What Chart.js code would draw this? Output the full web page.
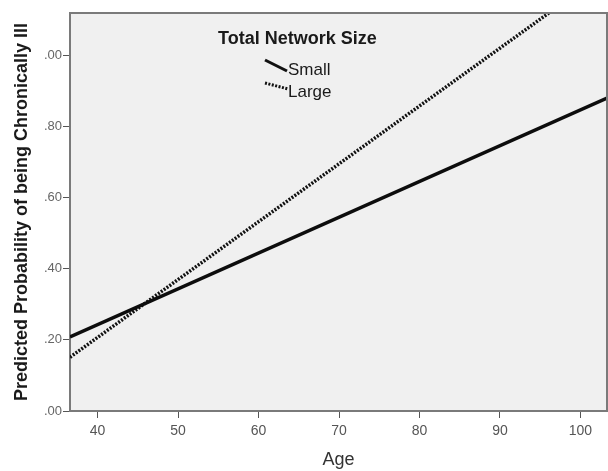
<!DOCTYPE html>
<html><head><meta charset="utf-8">
<script src="https://cdn.jsdelivr.net/npm/chart.js@4.4.1/dist/chart.umd.min.js"></script>
<style>html,body{margin:0;padding:0;background:#fff}#w{width:608px;height:471px}</style>
</head><body><div id="w"><canvas id="c" width="608" height="471"></canvas></div>
<script>
const ageSmall = [36.57, 103.3];
const probSmall = [0.208, 0.879];
const ageLarge = [36.57, 96.07];
const probLarge = [0.151, 1.118];
const xTicks = [40, 50, 60, 70, 80, 90, 100];
const yTicks = [0, 0.2, 0.4, 0.6, 0.8, 1.0];
const yTickLabels = ['.00', '.20', '.40', '.60', '.80', '.00'];
const seriesNames = ['Small', 'Large'];
const legendTitle = 'Total Network Size';

const bgPlugin = {
  id: 'bg',
  beforeDraw(chart) {
    const {ctx, chartArea: a} = chart;
    ctx.save(); ctx.fillStyle = '#f0f0f0';
    ctx.fillRect(a.left, a.top, a.right - a.left, a.bottom - a.top);
    ctx.restore();
  },
  afterDraw(chart) {
    const {ctx, chartArea: a} = chart;
    ctx.save();
    ctx.strokeStyle = '#7a7a7a'; ctx.lineWidth = 2;
    ctx.beginPath(); ctx.moveTo(a.left, a.top); ctx.lineTo(a.right, a.top); ctx.lineTo(a.right, a.bottom); ctx.stroke();
    // legend
    ctx.fillStyle = '#1a1a1a';
    ctx.font = 'bold 18px "Liberation Sans", Arial, sans-serif';
    ctx.textBaseline = 'middle'; ctx.textAlign = 'left';
    ctx.fillText(legendTitle, 218, 39);
    ctx.font = '17px "Liberation Sans", Arial, sans-serif';
    const ds = chart.data.datasets;
    const rows = [{y: 70, l: [265, 60, 287, 71]}, {y: 92, l: [265, 83, 288, 89]}];
    rows.forEach((r, i) => {
      ctx.save();
      ctx.strokeStyle = '#111'; ctx.lineWidth = 3;
      ctx.setLineDash(ds[i].borderDash || []);
      ctx.beginPath(); ctx.moveTo(r.l[0], r.l[1]); ctx.lineTo(r.l[2], r.l[3]); ctx.stroke();
      ctx.restore();
      ctx.fillText(ds[i].label, 288, r.y);
    });
    ctx.restore();
  }
};

new Chart(document.getElementById('c'), {
  type: 'line',
  data: {
    datasets: [
      {label: seriesNames[0], data: ageSmall.map((x, i) => ({x, y: probSmall[i]})), borderColor: '#0d0d0d', borderWidth: 3.5, pointRadius: 0, fill: false},
      {label: seriesNames[1], data: ageLarge.map((x, i) => ({x, y: probLarge[i]})), borderColor: '#111', borderWidth: 3.5, borderDash: [2, 1.5], pointRadius: 0, fill: false}
    ]
  },
  options: {
    responsive: false, animation: false, devicePixelRatio: 1,
    layout: {padding: {left: 0, top: 13, right: 1, bottom: 0}},
    plugins: {legend: {display: false}, tooltip: {enabled: false}},
    scales: {
      x: {
        type: 'linear', min: 36.57, max: 103.3,
        afterBuildTicks: s => { s.ticks = xTicks.map(v => ({value: v})); },
        afterFit: s => { s.height = 60; },
        ticks: {color: '#555', font: {family: '"Liberation Sans", Arial', size: 14}, padding: 5, maxRotation: 0},
        grid: {drawOnChartArea: false, drawTicks: true, tickLength: 7, color: '#555', lineWidth: 1},
        border: {color: '#7a7a7a', width: 2},
        title: {display: true, text: 'Age', color: '#333', font: {family: '"Liberation Sans", Arial', size: 18}, padding: {top: 7, bottom: 0}}
      },
      y: {
        min: 0, max: 1.118,
        afterBuildTicks: s => { s.ticks = yTicks.map(v => ({value: v})); },
        afterFit: s => { s.width = 70; },
        ticks: {color: '#666', font: {family: '"Liberation Sans", Arial', size: 13}, padding: 1,
          callback: (v, i) => yTickLabels[i]},
        grid: {drawOnChartArea: false, drawTicks: true, tickLength: 7, color: '#555', lineWidth: 1},
        border: {color: '#7a7a7a', width: 2},
        title: {display: true, text: 'Predicted Probability of being Chronically Ill', color: '#1a1a1a', font: {family: '"Liberation Sans", Arial', size: 18, weight: 'bold'}, padding: {top: 11, bottom: 0}}
      }
    }
  },
  plugins: [bgPlugin]
});
</script></body></html>
